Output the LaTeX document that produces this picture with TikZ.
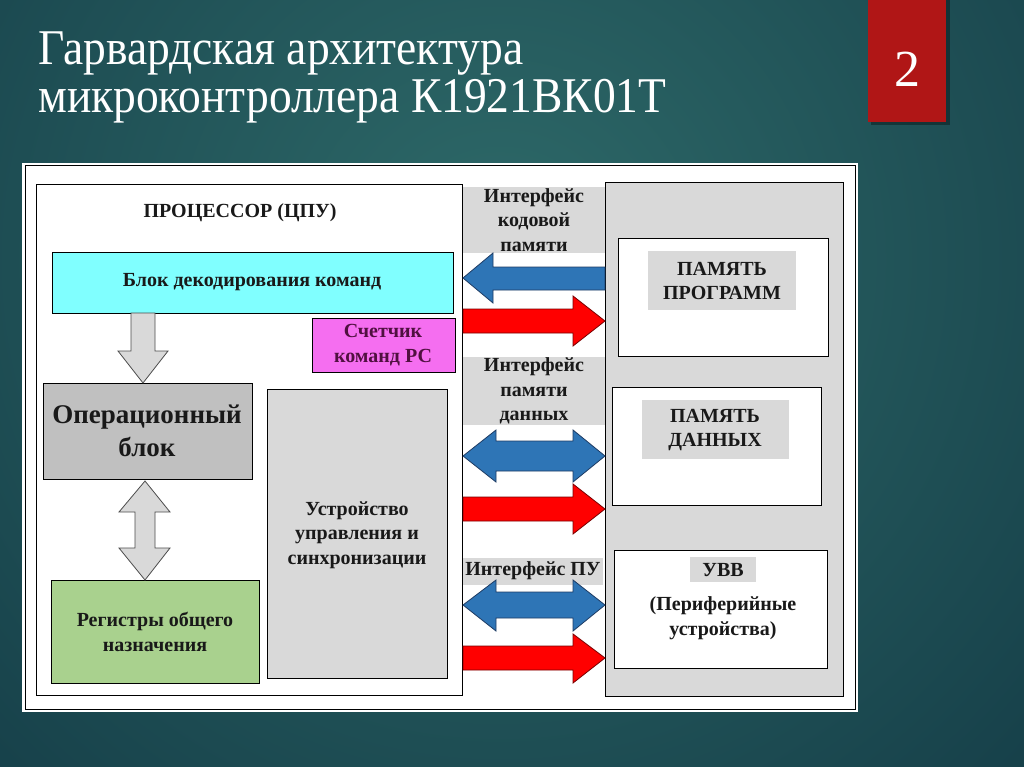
\documentclass[tikz,border=0pt]{standalone}
\usepackage{fontspec}
\usepackage{graphicx}
\setmainfont{Liberation Serif}
\definecolor{bgin}{RGB}{46,106,105}
\definecolor{bgout}{RGB}{12,46,60}
\definecolor{numred}{RGB}{176,22,22}
\definecolor{cyanbox}{RGB}{128,255,255}
\definecolor{pinkbox}{RGB}{245,110,240}
\definecolor{opgray}{RGB}{192,192,192}
\definecolor{ltgray}{RGB}{217,217,217}
\definecolor{greenbox}{RGB}{169,209,142}
\definecolor{arrblue}{RGB}{46,117,182}
\definecolor{arrblueline}{RGB}{30,60,100}
\definecolor{arrred}{RGB}{255,0,0}
\definecolor{arrredline}{RGB}{120,0,0}
\definecolor{pctext}{RGB}{80,16,64}
\begin{document}
\begin{tikzpicture}[x=1pt,y=-1pt,
  box/.style={draw=black, line width=1.3, anchor=north west, inner sep=0pt},
  plain/.style={anchor=north west, inner sep=0pt},
  lbl/.style={font=\fontsize{20}{24.5}\selectfont\bfseries, align=center, text=black!90, inner sep=0pt},
  bluearrow/.style={fill=arrblue, draw=arrblueline, line width=0.8, line join=miter},
  redarrow/.style={fill=arrred, draw=arrredline, line width=0.8, line join=miter},
  grayarrow/.style={fill=ltgray, draw=black!70, line width=0.8, line join=miter},
  title/.style={anchor=base west, text=white, inner sep=0pt, font=\fontsize{50}{50}\selectfont}
]
\useasboundingbox (0,0) rectangle (1024,767);
% background
\fill[bgout] (0,0) rectangle (1024,767);
\begin{scope}
\clip (0,0) rectangle (1024,767);
\shade[inner color=bgin, outer color=bgout] (500,260) circle (1050);
\end{scope}
% number box
\fill[black, opacity=0.35] (871,0) rectangle (950,125);
\node[plain, fill=numred, minimum width=78, minimum height=122] (numbox) at (868,0) {};
\node[text=white, font=\fontsize{52}{52}\selectfont, inner sep=0pt] (num) at (907,69) {2};
% title
\node[title] (t1) at (38,65) {\scalebox{0.91}[1]{Гарвардская архитектура}};
\node[title] (t2) at (38,113) {\scalebox{0.91}[1]{микроконтроллера К1921ВК01Т}};
% panel
\node[plain, fill=white, minimum width=836, minimum height=549] (panel) at (22,163) {};
\draw[black, line width=1] (25,166) rectangle (855,709);
% processor
\node[box, fill=white, minimum width=426, minimum height=511] (proc) at (36,184) {};
\node[lbl] (proct) at (240,213) {ПРОЦЕССОР (ЦПУ)};
\node[box, fill=cyanbox, minimum width=401, minimum height=61] (dec) at (52,252) {};
\node[lbl] (dect) at (252,282) {Блок декодирования команд};
\node[box, fill=pinkbox, minimum width=143, minimum height=54] (pc) at (312,318) {};
\node[lbl, text=pctext] (pct) at (383,345) {Счетчик\\команд РС};
\node[box, fill=opgray, minimum width=209, minimum height=96] (op) at (43,383) {};
\node[lbl, font=\fontsize{27}{33}\selectfont\bfseries] (opt) at (147,431) {Операционный\\блок};
\node[box, fill=greenbox, minimum width=208, minimum height=103] (reg) at (51,580) {};
\node[lbl] (regt) at (155,632) {Регистры общего\\назначения};
\node[box, fill=ltgray, minimum width=180, minimum height=289] (ctrl) at (267,389) {};
\node[lbl] (ctrlt) at (357,535) {Устройство\\управления и\\синхронизации};
% interface labels
\node[plain, fill=ltgray, minimum width=142, minimum height=66] (if1) at (463,187) {};
\node[lbl] (if1t) at (534,220) {Интерфейс\\кодовой\\памяти};
\node[plain, fill=ltgray, minimum width=142, minimum height=68] (if2) at (463,357) {};
\node[lbl] (if2t) at (534,391) {Интерфейс\\памяти\\данных};
\node[plain, fill=ltgray, minimum width=140, minimum height=27] (if3) at (463,558) {};
\node[lbl] (if3t) at (533,571) {Интерфейс ПУ};
% memory panel
\node[box, fill=ltgray, minimum width=238, minimum height=514] (mem) at (605,182) {};
\node[box, fill=white, minimum width=210, minimum height=118] (prog) at (618,238) {};
\node[plain, fill=ltgray, minimum width=148, minimum height=59] (progl) at (648,251) {};
\node[lbl] (progt) at (722,281) {ПАМЯТЬ\\ПРОГРАММ};
\node[box, fill=white, minimum width=209, minimum height=118] (data) at (612,387) {};
\node[plain, fill=ltgray, minimum width=147, minimum height=59] (datal) at (642,400) {};
\node[lbl] (datat) at (715,430) {ПАМЯТЬ\\ДАННЫХ};
\node[box, fill=white, minimum width=213, minimum height=118] (io) at (614,550) {};
\node[plain, fill=ltgray, minimum width=66, minimum height=25] (iol) at (690,557) {};
\node[lbl] (iolt) at (723,570) {УВВ};
\node[lbl] (iot) at (723,618) {(Периферийные\\устройства)};
% arrows: code memory
\draw[bluearrow] (605,267)--(493,267)--(493,253)--(463,278)--(493,303)--(493,290)--(605,290)--cycle;
\draw[redarrow] (463,309)--(573,309)--(573,296)--(605,321)--(573,346)--(573,333)--(463,333)--cycle;
% data memory
\draw[bluearrow] (463,456)--(496,430)--(496,441)--(573,441)--(573,430)--(605,456)--(573,482)--(573,471)--(496,471)--(496,482)--cycle;
\draw[redarrow] (463,497)--(573,497)--(573,484)--(605,509)--(573,534)--(573,521)--(463,521)--cycle;
% io
\draw[bluearrow] (463,605)--(496,580)--(496,592)--(573,592)--(573,580)--(605,605)--(573,631)--(573,618)--(496,618)--(496,631)--cycle;
\draw[redarrow] (463,646)--(573,646)--(573,634)--(605,658)--(573,683)--(573,670)--(463,670)--cycle;
% gray arrows
\draw[grayarrow] (131,313)--(155,313)--(155,351)--(168,351)--(143,383)--(118,351)--(131,351)--cycle;
\draw[grayarrow] (145,481)--(170,512)--(155,512)--(155,548)--(170,548)--(145,580)--(119,548)--(135,548)--(135,512)--(119,512)--cycle;
\end{tikzpicture}
\end{document}
